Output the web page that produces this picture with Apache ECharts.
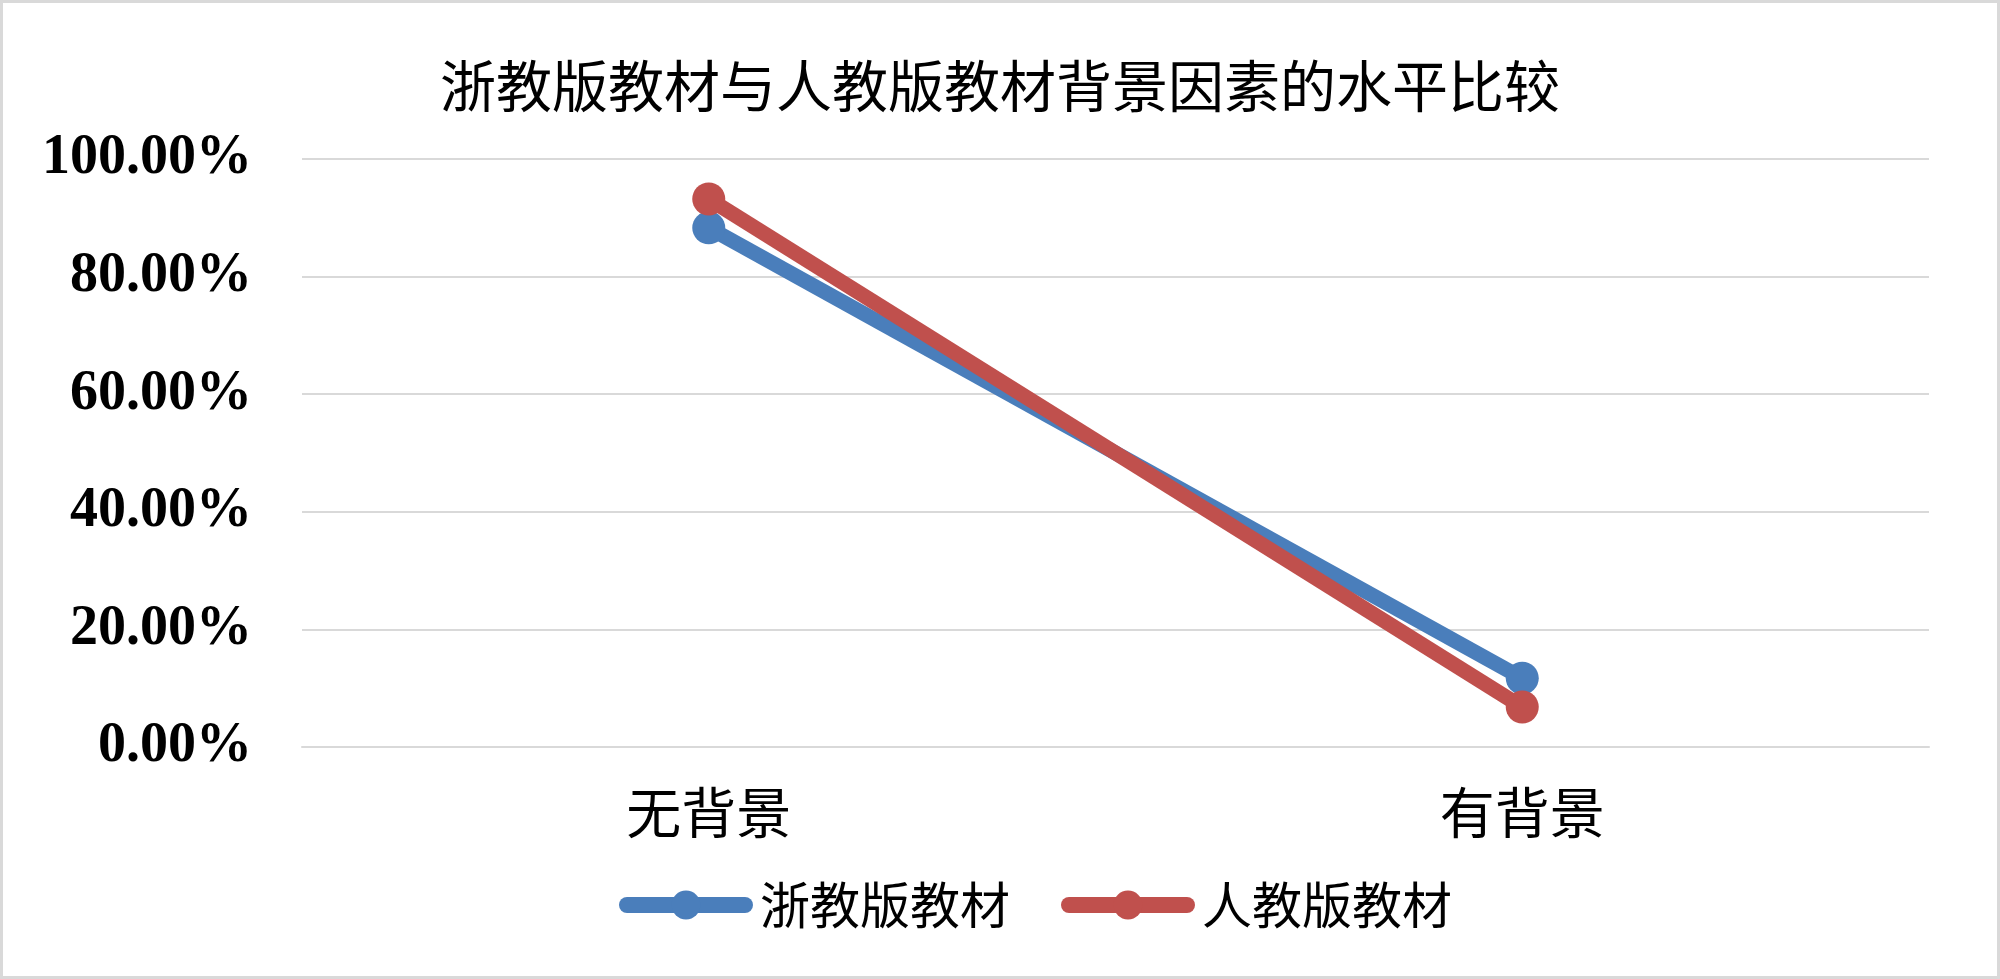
<!DOCTYPE html>
<html>
<head>
<meta charset="utf-8">
<title>浙教版教材与人教版教材背景因素的水平比较</title>
<script src="https://cdn.jsdelivr.net/npm/echarts@6/dist/echarts.min.js"></script>
<style>
  html, body { margin: 0; padding: 0; background: #fff; }
  #chart {
    width: 2000px;
    height: 979px;
    box-sizing: border-box;
    border: 3px solid #d9d9d9;
  }
</style>
</head>
<body>
<div id="chart"></div>
<script>
  // 数据
  var categories = ['无背景', '有背景']
  var zheValues = [0.883, 0.117]   // 浙教版教材
  var renValues = [0.932, 0.068]   // 人教版教材
  var seriesNames = ['浙教版教材', '人教版教材']
  var colors = ['#4a7ebb', '#c0504d']

  var cjk = '"Noto Sans CJK SC", "Noto Sans", sans-serif'

  var chart = echarts.init(document.getElementById('chart'))

  function lineSeries (name, data, color) {
    return {
      name: name,
      type: 'line',
      data: data,
      symbol: 'circle',
      symbolSize: 33,
      lineStyle: { width: 15, color: color },
      itemStyle: { color: color },
      animation: false
    }
  }

  chart.setOption({
    backgroundColor: '#fff',
    title: {
      text: '浙教版教材与人教版教材背景因素的水平比较',
      left: 'center',
      top: 50,
      textStyle: {
        fontFamily: cjk,
        fontWeight: 'normal',
        fontSize: 56,
        color: '#000'
      }
    },
    color: colors,
    legend: {
      data: seriesNames,
      bottom: 46,
      left: 616,
      padding: 0,
      itemWidth: 118,
      itemHeight: 36,
      itemGap: 51,
      lineStyle: { width: 16, cap: 'round' },
      textStyle: {
        fontFamily: cjk,
        fontSize: 50,
        color: '#000',
        padding: [0, 0, 0, 10]
      }
    },
    grid: {
      left: 299,
      right: 68,
      top: 156,
      bottom: 229,
      containLabel: false
    },
    xAxis: {
      type: 'category',
      data: categories,
      boundaryGap: true,
      axisLine: { show: true, lineStyle: { color: '#d9d9d9', width: 2 } },
      axisTick: { show: false },
      axisLabel: {
        margin: 38,
        fontFamily: cjk,
        fontSize: 55,
        color: '#000'
      }
    },
    yAxis: {
      type: 'value',
      min: 0,
      max: 1,
      interval: 0.2,
      axisLine: { show: false },
      axisTick: { show: false },
      splitLine: { lineStyle: { color: '#d9d9d9', width: 2 } },
      axisLabel: {
        margin: 50,
        fontFamily: '"Liberation Serif", "Times New Roman", serif',
        fontWeight: 'bold',
        fontSize: 56,
        color: '#000',
        formatter: function (v) { return (v * 100).toFixed(2) + '%' }
      }
    },
    series: [
      lineSeries(seriesNames[0], zheValues, colors[0]),
      lineSeries(seriesNames[1], renValues, colors[1])
    ]
  })
</script>
</body>
</html>
